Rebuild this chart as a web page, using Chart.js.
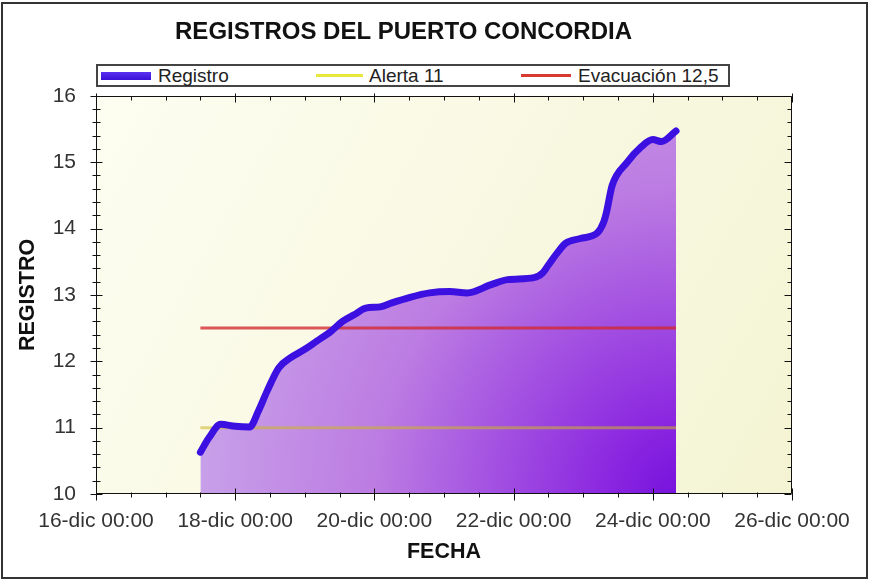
<!DOCTYPE html>
<html>
<head>
<meta charset="utf-8">
<script src="https://cdn.jsdelivr.net/npm/chart.js@4.4.0/dist/chart.umd.min.js"></script>
<style>
html,body{margin:0;padding:0;background:#fff;}
#wrap{position:relative;width:870px;height:580px;}
canvas{display:block;}
#legend{position:absolute;left:96px;top:64px;width:630px;height:19px;border:2px solid #444;background:#fff;
  font-family:"Liberation Sans",Arial,sans-serif;font-size:19px;color:#222;}
#legend .sw{position:absolute;}
#legend .tx{position:absolute;top:0;height:19px;line-height:19px;white-space:nowrap;}
</style>
</head>
<body>
<div id="wrap">
<canvas id="c" width="870" height="580"></canvas>
<div id="legend">
  <span class="sw" style="left:3px;top:6px;width:50px;height:8px;background:linear-gradient(#5a30f0,#3a10d8);"></span>
  <span class="tx" id="lg0" style="left:60px;"></span>
  <span class="sw" style="left:218px;top:8px;width:47px;height:3px;background:#e8e83c;"></span>
  <span class="tx" id="lg1" style="left:271px;"></span>
  <span class="sw" style="left:423px;top:8px;width:50px;height:3px;background:#d83a30;"></span>
  <span class="tx" id="lg2" style="left:480px;"></span>
</div>
</div>
<script>
// ---- data ----
const chartTitle = 'REGISTROS DEL PUERTO CONCORDIA';
const seriesNames = ['Registro', 'Alerta 11', 'Evacuación 12,5'];
// hours since 16-dic 00:00
const hours = [36,39,43,48,53,56,59,63,67,72,76,81,85,89,93,98,102,108,115,122,128,136,142,151,154,156,159,162,167,173,175,176,178,183,188,192,195,200];
const registro = [10.63,10.85,11.05,11.02,11.01,11.25,11.55,11.9,12.05,12.18,12.3,12.45,12.6,12.7,12.8,12.82,12.88,12.96,13.03,13.05,13.03,13.15,13.23,13.26,13.33,13.45,13.63,13.78,13.85,13.94,14.09,14.24,14.65,14.99,15.23,15.34,15.31,15.47];
const alertaLevel = 11;
const evacuacionLevel = 12.5;
const xTickLabels = ['16-dic 00:00','18-dic 00:00','20-dic 00:00','22-dic 00:00','24-dic 00:00','26-dic 00:00'];
const yTickValues = [10,11,12,13,14,15,16];

const X_MIN = 0, X_MAX = 240, Y_MIN = 10, Y_MAX = 16;

document.getElementById('lg0').textContent = seriesNames[0];
document.getElementById('lg1').textContent = seriesNames[1];
document.getElementById('lg2').textContent = seriesNames[2];

const regPts = hours.map((h,i)=>({x:h,y:registro[i]}));
const hFirst = hours[0], hLast = hours[hours.length-1];
const alertPts = [{x:hFirst,y:alertaLevel},{x:hLast,y:alertaLevel}];
const evacPts = [{x:hFirst,y:evacuacionLevel},{x:hLast,y:evacuacionLevel}];

const FONT = '"Liberation Sans", Arial, sans-serif';

const decor = {
  id:'decor',
  beforeDraw(chart){
    const {ctx, chartArea:a} = chart;
    ctx.save();
    const g = ctx.createLinearGradient(a.left,a.top,a.right,a.bottom);
    g.addColorStop(0,'#fdfdf1');
    g.addColorStop(1,'#f4f4d4');
    ctx.fillStyle = g;
    ctx.fillRect(a.left,a.top,a.right-a.left,a.bottom-a.top);
    ctx.restore();
  },
  afterDraw(chart){
    const {ctx, chartArea:a, scales:{x,y}} = chart;
    ctx.save();
    ctx.strokeStyle = '#111';
    ctx.lineWidth = 1;
    const L = Math.round(a.left)+0.5, R = Math.round(a.right)-0.5, T = Math.round(a.top)+0.5, B = Math.round(a.bottom)-0.5;
    ctx.beginPath();
    ctx.moveTo(L,T); ctx.lineTo(R,T); ctx.lineTo(R,B); ctx.lineTo(L,B); ctx.closePath();
    for (let h = X_MIN; h <= X_MAX; h += 12){
      const px = Math.round(x.getPixelForValue(h))+0.5;
      const major = h % 48 === 0;
      ctx.moveTo(px, B - (major?5:1)); ctx.lineTo(px, B + (major?7:4));
      ctx.moveTo(px, T + (major?6:4)); ctx.lineTo(px, T - (major?3:0));
    }
    for (let i = 0; i <= 30; i++){
      const v = Y_MIN + i*0.2;
      const py = Math.round(y.getPixelForValue(v))+0.5;
      const major = i % 5 === 0;
      ctx.moveTo(L-(major?6:4), py); ctx.lineTo(L+(major?6:4), py);
      ctx.moveTo(R-(major?7:4), py); ctx.lineTo(R, py);
    }
    ctx.stroke();
    ctx.strokeStyle = '#333';
    ctx.lineWidth = 2;
    ctx.strokeRect(2,3,865,575);
    ctx.restore();
  }
};

function fillGrad(c){
  const ch = c.chart;
  const sx = ch.scales.x, sy = ch.scales.y;
  if (!sx || !sy || !ch.chartArea) return 'rgba(180,120,230,0.85)';
  const cx = sx.getPixelForValue(hLast)+10, cy = sy.getPixelForValue(Y_MIN)+5;
  const g = ch.ctx.createRadialGradient(cx,cy,0,cx,cy,520);
  g.addColorStop(0,'#7410dc');
  g.addColorStop(0.15,'#8a26e0');
  g.addColorStop(0.6,'#bc7ce2');
  g.addColorStop(1,'#caa6ea');
  return g;
}

new Chart(document.getElementById('c'), {
  type:'line',
  data:{
    datasets:[
      {label:seriesNames[0], data:regPts, borderColor:'#3c10e0', borderWidth:7, pointRadius:0,
       cubicInterpolationMode:'monotone', borderJoinStyle:'round', borderCapStyle:'round',
       fill:'start', backgroundColor:fillGrad, order:0},
      {label:seriesNames[1], data:alertPts, borderColor:'rgba(205,180,40,0.55)', borderWidth:3, pointRadius:0, fill:false, order:1},
      {label:seriesNames[2], data:evacPts, borderColor:'rgba(210,40,45,0.78)', borderWidth:3, pointRadius:0, fill:false, order:2}
    ]
  },
  options:{
    responsive:false,
    animation:false,
    devicePixelRatio:1,
    layout:{padding:{left:15,right:78,top:0,bottom:15}},
    plugins:{
      legend:{display:false},
      tooltip:{enabled:false},
      filler:{drawTime:'beforeDatasetsDraw'},
      title:{display:true, text:chartTitle, color:'#111',
             font:{family:FONT, size:24, weight:'bold'}, padding:{top:18,bottom:49}}
    },
    scales:{
      x:{type:'linear', min:X_MIN, max:X_MAX,
         grid:{display:false, drawTicks:false}, border:{display:false},
         afterFit:(s)=>{ s.height = 71; },
         ticks:{stepSize:48, autoSkip:false, maxRotation:0, padding:15, color:'#333',
                font:{family:FONT,size:21},
                callback:(v,i)=>xTickLabels[i]},
         title:{display:true, text:'FECHA', color:'#111', font:{family:FONT,size:21.5,weight:'bold'}, padding:{top:5,bottom:0}}},
      y:{type:'linear', min:Y_MIN, max:Y_MAX,
         grid:{display:false, drawTicks:false}, border:{display:false},
         afterBuildTicks:(s)=>{ s.ticks = yTickValues.map(v=>({value:v})); },
         afterFit:(s)=>{ s.width = 81; },
         ticks:{padding:20, color:'#333', font:{family:FONT,size:21}},
         title:{display:true, text:'REGISTRO', color:'#111', font:{family:FONT,size:21.5,weight:'bold'}, padding:{top:0,bottom:0}}}
    }
  },
  plugins:[decor]
});
</script>
</body>
</html>
